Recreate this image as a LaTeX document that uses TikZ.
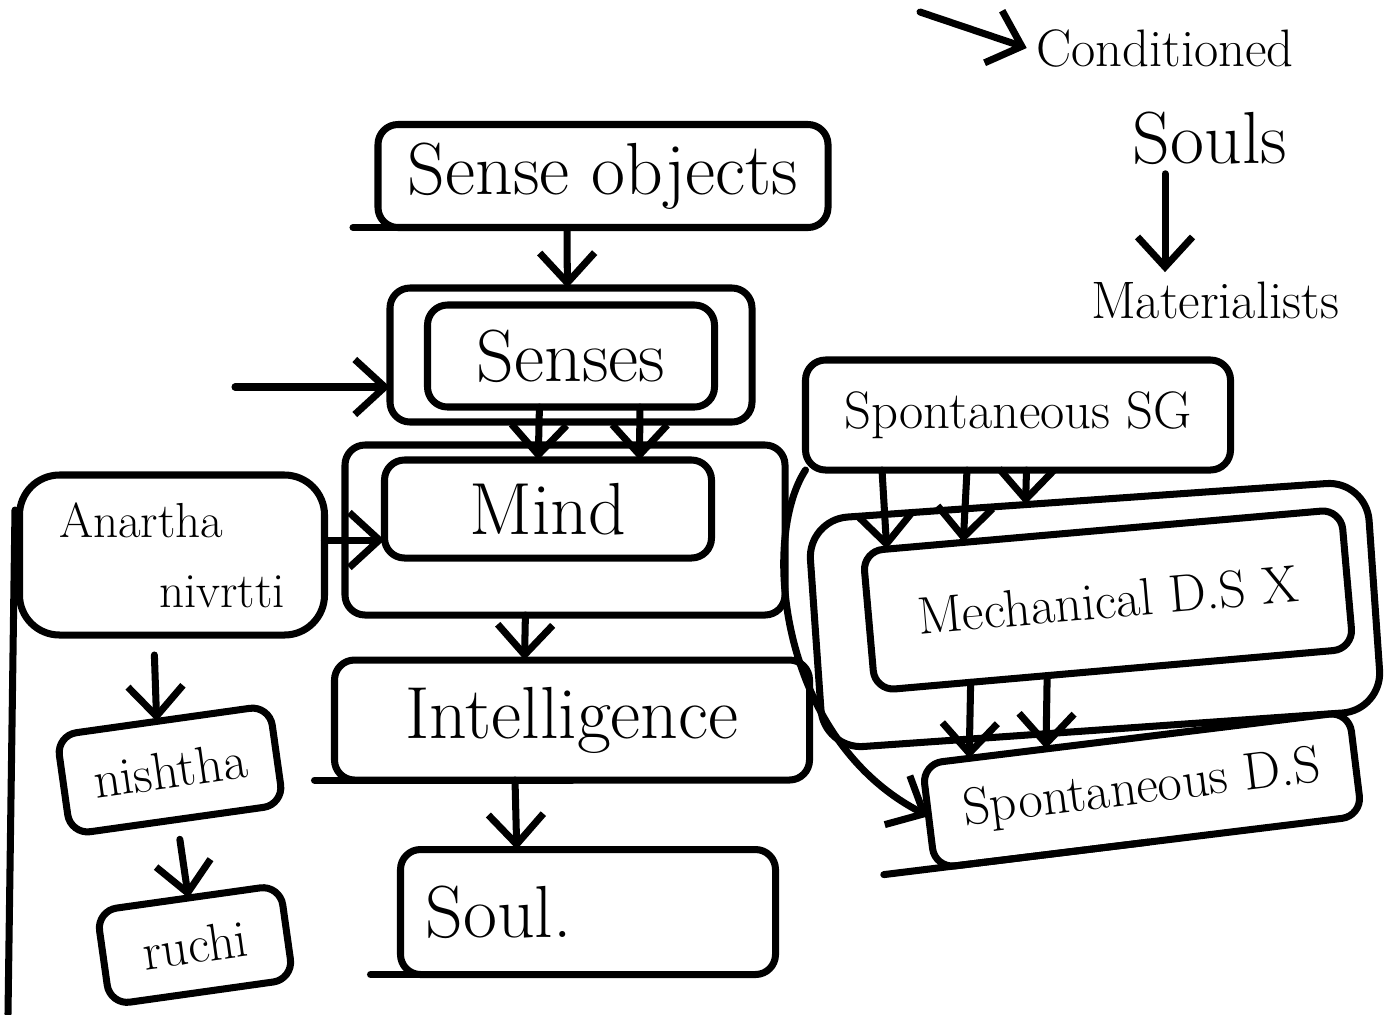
\documentclass[tikz,border=0pt]{standalone}
\usepackage{tikz}
\usetikzlibrary{arrows.meta,positioning,calc}

\begin{document}
\begin{tikzpicture}[x=0.2mm, y=-0.2mm, line width=4pt, line cap=round, line join=round,
    box/.style={draw, rounded corners=4mm, inner sep=2mm, outer sep=0pt},
    bigtext/.style={font=\fontsize{42}{48}\selectfont},
    smalltext/.style={font=\fontsize{30}{36}\selectfont},
    arr/.style={-{Straight Barb[length=6mm,width=11mm]}}]
  \useasboundingbox (0,0) rectangle (1385,1014);

  % Define nodes
  \node[box, bigtext, minimum width=90mm, minimum height=20.6mm] (sobj) at (603,176) {Sense objects};
  \node[box, minimum width=72.4mm, minimum height=26.8mm] (sensesout) at (571,355) {};
  \node[box, bigtext, minimum width=57.4mm, minimum height=20.4mm] (senses) at (571,356) {Senses};
  \node[box, minimum width=88mm, minimum height=34mm] (mindout) at (565,530) {};
  \node[box, bigtext, minimum width=65.4mm, minimum height=19.6mm] (mind) at (548,509) {Mind};
  \node[box, bigtext, minimum width=95mm, minimum height=24mm] (intel) at (572,720) {Intelligence};
  \node[box, bigtext, minimum width=75mm, minimum height=25mm, text width=65mm, align=left] (soul) at (588,912) {Soul.};

  \node[box, rounded corners=8mm, minimum width=61mm, minimum height=32mm, align=left,
        font=\fontsize{28}{40}\selectfont] (anartha) at (172,555) {Anartha\\\hspace*{20mm}nivrtti};
  \node[box, smalltext, rotate=8, minimum width=43mm, minimum height=20mm] (nishtha) at (170,770) {nishtha};
  \node[box, smalltext, rotate=8, minimum width=37mm, minimum height=19mm] (ruchi) at (195,945) {ruchi};

  \node[smalltext] (cond) at (1165,48) {Conditioned};
  \node[bigtext] (souls) at (1210,138) {Souls};
  \node[smalltext] (mat) at (1215,300) {Materialists};
  \coordinate (condfrom) at (920,12);
  \coordinate (sensesfrom) at (235,387);

  \node[box, smalltext, minimum width=85mm, minimum height=22mm] (sg) at (1018,415) {Spontaneous SG};
  \node[box, rounded corners=8mm, rotate=4, minimum width=112mm, minimum height=46mm] (mechout) at (1095,615) {};
  \node[box, smalltext, rotate=5, minimum width=96mm, minimum height=28mm] (mech) at (1108,600) {Mechanical D.S X};
  \node[box, smalltext, rotate=7, minimum width=86mm, minimum height=21mm] (spds) at (1142,790) {Spontaneous D.S};

  % bottom lines running out to the left
  \draw ([xshift=-5mm]sobj.south west) -- (sobj.south);
  \draw ([xshift=-4mm]intel.south west) -- (intel.south);
  \draw ([xshift=-6mm]soul.south west) -- (soul.south);
  \draw ($(spds.south west)!-0.12!(spds.south east)$) -- (spds.south);
  \draw (15,510) -- (8,1014);

  % Draw edges
  \draw[arr] ($(sobj.south west)!0.42!(sobj.south east)$) -- ($(sensesout.north west)!0.49!(sensesout.north east)$);
  \draw[arr] (sensesfrom) -- (sensesfrom -| sensesout.west);
  \draw[arr] ($(senses.south west)!0.39!(senses.south east)$) -- ($(mind.north west)!0.47!(mind.north east)$);
  \draw[arr] ($(senses.south west)!0.74!(senses.south east)$) -- ($(mind.north west)!0.78!(mind.north east)$);
  \draw[arr] ($(mindout.south west)!0.41!(mindout.south east)$) -- ($(intel.north west)!0.40!(intel.north east)$);
  \draw[arr] ($(intel.south west)!0.38!(intel.south east)$) -- ($(soul.north west)!0.31!(soul.north east)$);

  \draw[arr] ([yshift=3mm]anartha.east) -- ([yshift=3mm]anartha.east -| mind.west);
  \draw[arr, shorten <=4mm] ($(anartha.south west)!0.44!(anartha.south east)$) -- ($(nishtha.north west)!0.47!(nishtha.north east)$);
  \draw[arr, shorten <=4mm] (nishtha.south) -- (ruchi.north);

  \draw[arr] (condfrom) -- (cond.west);
  \draw[arr] ([xshift=-9mm]souls.south) -- ([xshift=-9mm]souls.south |- mat.north);

  \draw[arr] ($(sg.south west)!0.18!(sg.south east)$) -- ($(mech.north west)!0.05!(mech.north east)$);
  \draw[arr] ($(sg.south west)!0.38!(sg.south east)$) -- ($(mech.north west)!0.21!(mech.north east)$);
  \draw[arr] ($(sg.south west)!0.52!(sg.south east)$) -- ($(mechout.north west)!0.39!(mechout.north east)$);
  \draw[arr] ($(mech.south west)!0.20!(mech.south east)$) -- ($(spds.north west)!0.11!(spds.north east)$);
  \draw[arr] ($(mech.south west)!0.36!(mech.south east)$) -- ($(spds.north west)!0.29!(spds.north east)$);
  \draw[arr] (sg.south west) .. controls (760,540) and (780,740) .. (spds.west);
\end{tikzpicture}
\end{document}
